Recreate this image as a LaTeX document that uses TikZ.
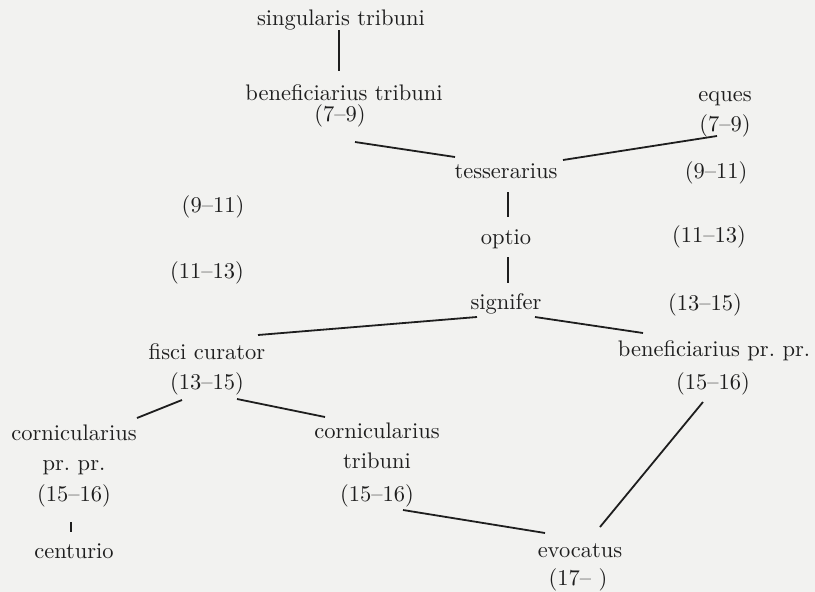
\documentclass[tikz,border=0pt]{standalone}
\usepackage{fontspec}
\setmainfont{lmroman10-regular.otf}
\frenchspacing
\usetikzlibrary{calc}
\definecolor{paper}{HTML}{F2F2F0}
\definecolor{ink}{HTML}{1E1E1E}
\tikzset{
  lbl/.style={anchor=base, inner sep=0pt, text=ink, font=\fontsize{22.5}{26}\selectfont},
  link/.style={draw=ink, line width=1.8pt},
}
\begin{document}
\begin{tikzpicture}[x=1pt, y=-1pt]
  \fill[paper] (0,0) rectangle (815,592);
  \useasboundingbox (0,0) rectangle (815,592);

  % ranks
  \node[lbl] (sing)    at (341,25)  {singularis tribuni};
  \node[lbl] (bt)      at (344,100) {beneficiarius tribuni};
  \node[lbl] (bt79)    at (340,121) {(7--9)};
  \node[lbl] (eq)      at (725,101) {eques};
  \node[lbl] (eq79)    at (725,131) {(7--9)};
  \node[lbl] (tess)    at (506,178) {tesserarius};
  \node[lbl] (r911)    at (716,178) {(9--11)};
  \node[lbl] (l911)    at (213,212) {(9--11)};
  \node[lbl] (opt)     at (506,244) {optio};
  \node[lbl] (r1113)   at (709,242) {(11--13)};
  \node[lbl] (l1113)   at (207,278) {(11--13)};
  \node[lbl] (sig)     at (506,309) {signifer};
  \node[lbl] (r1315)   at (705,310) {(13--15)};
  \node[lbl] (fc)      at (207,359) {fisci curator};
  \node[lbl] (fc1315)  at (207,389) {(13--15)};
  \node[lbl] (bpp)     at (714,356) {beneficiarius pr. pr.};
  \node[lbl] (bpp1516) at (713,389) {(15--16)};
  \node[lbl] (cpp)     at (74,440)  {cornicularius};
  \node[lbl] (cpppr)   at (74,470)  {pr. pr.};
  \node[lbl] (cpp1516) at (74,501)  {(15--16)};
  \node[lbl] (cent)    at (74,558)  {centurio};
  \node[lbl] (ct)      at (377,438) {cornicularius};
  \node[lbl] (cttr)    at (377,468) {tribuni};
  \node[lbl] (ct1516)  at (377,501) {(15--16)};
  \node[lbl] (ev)      at (580,557) {evocatus};
  \node[lbl] (ev17)    at (578,585) {(17-- )};

  % promotion lines
  \draw[link] ($(sing.base)+(-2,5)$)    -- ($(bt.base)+(-5,-29)$);
  \draw[link] ($(bt79.base)+(15,21)$)   -- ($(tess.base)+(-51,-21)$);
  \draw[link] ($(eq79.base)+(-8,5)$)    -- ($(tess.base)+(57,-18)$);
  \draw[link] ($(tess.base)+(2,14)$)    -- ($(opt.base)+(2,-27)$);
  \draw[link] ($(opt.base)+(2,13)$)     -- ($(sig.base)+(2,-26)$);
  \draw[link] ($(sig.base)+(-29,8)$)    -- ($(fc.base)+(51,-24)$);
  \draw[link] ($(sig.base)+(29,8)$)     -- ($(bpp.base)+(-71,-23)$);
  \draw[link] ($(fc1315.base)+(-25,11)$) -- ($(cpp.base)+(63,-22)$);
  \draw[link] ($(fc1315.base)+(30,10)$)  -- ($(ct.base)+(-52,-21)$);
  \draw[link] ($(cpp1516.base)+(-3,21)$) -- ($(cent.base)+(-3,-26)$);
  \draw[link] ($(ct1516.base)+(26,9)$)   -- ($(ev.base)+(-35,-24)$);
  \draw[link] ($(bpp1516.base)+(-10,13)$) -- ($(ev.base)+(20,-30)$);
\end{tikzpicture}
\end{document}
